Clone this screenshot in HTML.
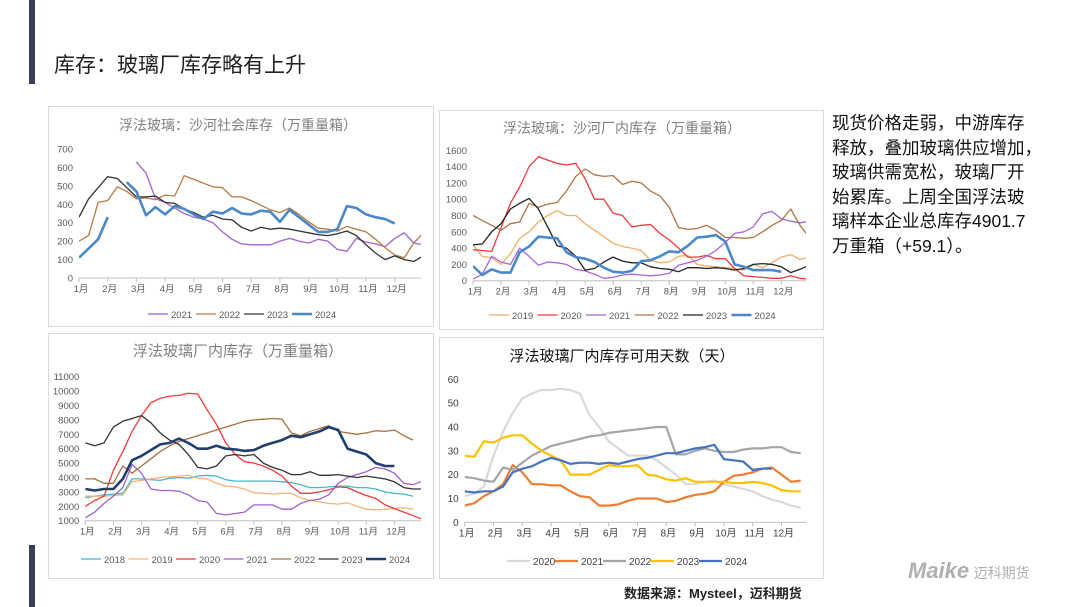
<!DOCTYPE html>
<html><head><meta charset="utf-8">
<style>
body{margin:0;width:1080px;height:607px;background:#fff;position:relative;overflow:hidden;font-family:"Liberation Sans","Noto Sans CJK SC",sans-serif;}
.abs{position:absolute;}
.box{position:absolute;border:1px solid #d9d9d9;background:#fff;}
svg text{font-family:"Liberation Sans","Noto Sans CJK SC",sans-serif;}
</style></head><body>
<div class="abs" style="left:29px;top:0;width:6px;height:84px;background:#3a3f55"></div>
<div class="abs" style="left:29px;top:545px;width:6px;height:62px;background:#3a3f55"></div>
<div class="abs" style="left:54px;top:49px;font-size:21px;color:#222;white-space:nowrap">库存：玻璃厂库存略有上升</div>
<div class="abs" style="left:832px;top:111px;font-size:17.5px;line-height:24.5px;color:#111;white-space:nowrap">现货价格走弱，中游库存<br>释放，叠加玻璃供应增加，<br>玻璃供需宽松，玻璃厂开<br>始累库。上周全国浮法玻<br>璃样本企业总库存4901.7<br>万重箱（+59.1）。</div>
<div class="abs" style="left:624px;top:583px;font-size:13px;font-weight:bold;color:#222;white-space:nowrap">数据来源：Mysteel，迈科期货</div>
<div class="abs" style="left:908px;top:558px;white-space:nowrap;color:#b0b0b0"><span style="font-size:22px;font-weight:bold;font-style:italic">Maike</span> <span style="font-size:14px">迈科期货</span></div>
<div class="box" style="left:48px;top:106px;width:384px;height:219px"></div>
<div class="box" style="left:439px;top:110px;width:383px;height:218px"></div>
<div class="box" style="left:48px;top:333px;width:384px;height:244px"></div>
<div class="box" style="left:439px;top:337px;width:383px;height:240px"></div>
<svg id="chart" class="abs" style="left:0;top:0" width="1080" height="607"></svg>
<script>
const monthLabels=["1月","2月","3月","4月","5月","6月","7月","8月","9月","10月","11月","12月"];
// Chart 1: 沙河社会库存 (values every 1/3 month)
const c1Years=["2021","2022","2023","2024"];
const c1_2021=[null,null,null,null,null,null,630,570,430,410,380,350,330,320,300,250,210,185,180,180,180,200,215,200,190,210,200,155,145,215,195,185,170,215,245,190,180];
const c1_2022=[200,230,410,420,495,470,430,435,425,450,445,555,535,515,495,490,440,440,420,395,370,355,380,345,305,270,265,255,280,265,250,210,165,125,110,190,245];
const c1_2023=[330,430,490,550,540,490,440,440,445,410,405,375,355,330,340,320,315,275,255,275,265,270,265,255,245,235,230,240,255,230,180,135,100,120,100,90,120];
const c1_2024=[110,160,210,330,null,520,470,340,385,345,390,375,345,320,360,350,380,350,345,365,360,305,370,330,290,250,250,265,390,380,345,330,320,295];
// Chart 2: 沙河厂内库存
const c2Years=["2019","2020","2021","2022","2023","2024"];
const c2_2019=[440,300,280,200,330,520,600,720,800,860,800,800,700,620,540,460,420,400,370,250,220,230,300,310,200,180,170,160,150,130,200,160,220,290,320,260,290];
const c2_2020=[380,370,360,650,950,1150,1400,1520,1480,1440,1420,1440,1250,1000,1000,830,800,660,680,690,580,500,400,290,290,310,270,270,150,60,50,40,30,30,60,30,20];
const c2_2021=[20,80,300,230,200,400,300,190,230,220,200,140,120,80,30,40,70,80,70,60,70,90,190,220,250,300,370,470,580,600,660,820,850,760,730,710,730];
const c2_2022=[800,740,680,620,700,720,950,900,940,960,1100,1280,1370,1300,1280,1290,1180,1220,1200,1100,1040,900,650,630,640,680,620,530,530,520,530,600,680,740,880,680,530];
const c2_2023=[440,450,600,700,880,950,1010,880,660,430,400,300,130,150,230,290,240,220,220,170,150,140,110,160,160,150,160,150,130,150,200,210,200,170,100,140,190];
const c2_2024=[180,70,140,100,100,350,420,540,530,520,350,290,270,230,160,110,100,120,240,250,300,360,350,430,530,540,560,480,200,170,130,130,130,110];
// Chart 3: 浮法玻璃厂内库存
const c3Years=["2018","2019","2020","2021","2022","2023","2024"];
const c3_2018=[2600,2700,2800,2850,2900,3900,3900,3850,3800,3950,4000,3950,4100,4150,4100,3850,3750,3750,3750,3750,3750,3700,3650,3500,3300,3300,3350,3400,3400,3300,3300,3200,3000,2900,2850,2700];
const c3_2019=[2700,2700,2700,2750,2800,3700,3800,3900,4000,4050,4100,4150,3950,3900,3600,3400,3350,3200,2950,2900,2850,2900,2900,2600,2400,2300,2200,2150,2250,2000,1800,1750,1800,1850,1900,1800];
const c3_2020=[2000,2400,2700,4500,5800,7200,8300,9200,9500,9650,9700,9850,9800,8700,7700,6400,5600,5100,5000,4800,4500,4100,3400,2900,2900,3000,3150,3350,3300,3000,2750,2550,2100,1850,1600,1350,1100];
const c3_2021=[1200,1600,2200,2700,3300,4900,4300,3200,3100,3100,3050,2800,2400,2300,1500,1400,1500,1600,2100,2100,2100,1800,1800,2200,2400,2500,2800,3600,4000,4200,4400,4700,4600,4300,3600,3500,3750];
const c3_2022=[3900,3900,3600,3600,4800,4300,4800,5300,5800,6200,6500,6700,6900,7100,7300,7500,7700,7900,8000,8050,8100,8050,7100,6900,7200,7400,7600,7200,7100,7000,7100,7250,7200,7300,6900,6600];
const c3_2023=[6400,6200,6400,7500,7900,8100,8300,7800,7100,6600,6300,5600,4700,4600,4800,5500,5600,5500,5600,5000,4700,4500,4200,4200,4400,4150,4150,4200,4100,4000,4100,4000,3900,3700,3300,3200,3200];
const c3_2024=[3200,3100,3200,3200,3900,5200,5500,5900,6300,6400,6700,6400,6000,6000,6200,6000,5950,5850,5900,6200,6400,6600,6900,6800,7000,7200,7500,7300,6000,5800,5600,5000,4800,4800];
// Chart 4: 可用天数
const c4Years=["2020","2021","2022","2023","2024"];
const c4_2020=[11,12,15,28,38,46,52,54,55.5,55.5,56,55.5,54,45,40,34,31,28,28,28,26,23,20,16,16,17,17.5,16,15,14,13,11,9.5,8.5,7,6];
const c4_2021=[7,8,11,13,16,24,21,16,16,15.5,15.5,13,11,10.5,7,7,7.5,9,10,10,10,8.5,9,10.5,11.5,12,13,17,19.5,20,21,22.5,23,20,17,17.5];
const c4_2022=[19,18.5,17.5,17,23,22,25,28,30,32,33,34,35,36,36.5,37.5,38,38.5,39,39.5,40,40,28.5,28.5,30,31,30,29.5,29.5,30.5,31,31,31.5,31.5,29.5,29];
const c4_2023=[28,27.5,34,33.5,35.5,36.5,36.5,33,30,28,26,20,20,20,22,24,23.5,23.5,24,20,19.5,18,17.5,18.5,17,17,17,17,16.5,16.5,17,16.5,15.5,13.5,13,13];
const c4_2024=[13,12.5,13,13,15,21,22.5,23.5,25.5,27,26,24.5,25,25,24.5,25,24.5,25.5,26.5,27,28,29,29,30,31,31.5,32.5,26.5,26,25.5,22,22.5,22.5];

const NS="http://www.w3.org/2000/svg";
const svg=document.getElementById('chart');
function mk(tag,attrs,parent){const e=document.createElementNS(NS,tag);for(const k in attrs)e.setAttribute(k,attrs[k]);(parent||svg).appendChild(e);return e;}

function drawChart(cfg){
  const g=mk('g',{});
  
  
  const xs=m=>cfg.x0+m*cfg.mw;
  const ys=v=>cfg.yb-(v-cfg.ymin)/(cfg.ymax-cfg.ymin)*(cfg.yb-cfg.yt);
  const t=mk('text',{x:cfg.tx,y:cfg.ty,'text-anchor':'middle','font-size':cfg.tfs,fill:cfg.tcol},g);
  t.textContent=cfg.title;
  
  
  for(let v=cfg.ymin;v<=cfg.ymax+1e-9;v+=cfg.ystep){
    const l=mk('text',{x:cfg.x0-6,y:ys(v)+3.5,'text-anchor':'end','font-size':cfg.fs,fill:cfg.lcol},g);
    l.textContent=String(v);
    
    
  }
  const ax=mk('line',{x1:cfg.x0,x2:cfg.xe,y1:cfg.yb,y2:cfg.yb,stroke:'#bfbfbf','stroke-width':1},g);
  
  
  monthLabels.forEach((m,i)=>{
    mk('line',{x1:xs(i),x2:xs(i),y1:cfg.yb,y2:cfg.yb+4,stroke:'#bfbfbf'},g);
    const l=mk('text',{x:xs(i)+2,y:cfg.yb+14,'text-anchor':'middle','font-size':cfg.fs,fill:cfg.lcol},g);
    l.textContent=m;
    
    
  });
  const cid='clip'+cfg.name;
  const cp=mk('clipPath',{id:cid},g);
  mk('rect',{x:cfg.x0,y:cfg.yt-20,width:cfg.xe-cfg.x0,height:cfg.yb-cfg.yt+20},cp);
  cfg.series.forEach((s,si)=>{
    let d='',pen=false;
    s.data.forEach((v,i)=>{
      if(v===null){pen=false;return;}
      d+=(pen?'L':'M')+xs(i/3).toFixed(1)+','+ys(v).toFixed(1);pen=true;
    });
    const p=mk('path',{d:d,fill:'none',stroke:s.color,'stroke-width':s.w,'stroke-linejoin':'round','clip-path':'url(#'+cid+')'},g);
    
    
    const lx=cfg.lgx+si*cfg.lgs;
    const ll=mk('line',{x1:lx,x2:lx+cfg.lgl,y1:cfg.lgy,y2:cfg.lgy,stroke:s.color,'stroke-width':s.w},g);
    
    
    const lt=mk('text',{x:lx+cfg.lgl+3,y:cfg.lgy+4,'font-size':cfg.fs,fill:cfg.lcol},g);
    lt.textContent=s.label;
    
    
  });
}
drawChart({name:'chart-shahe-social-stock',title:'浮法玻璃：沙河社会库存（万重量箱）',tx:238,ty:130,tfs:14,tcol:'#808080',
  x0:79,mw:28.7,xe:421,yb:278,yt:149,ymin:0,ymax:700,ystep:100,fs:9.5,lcol:'#595959',
  lgx:148,lgs:48,lgl:20,lgy:314,
  series:[{label:c1Years[0],data:c1_2021,color:'#9e62cc',w:1.3},{label:c1Years[1],data:c1_2022,color:'#b77a43',w:1.3},
  {label:c1Years[2],data:c1_2023,color:'#333333',w:1.3},{label:c1Years[3],data:c1_2024,color:'#4a88c9',w:2.6}]});
drawChart({name:'chart-shahe-factory-stock',title:'浮法玻璃：沙河厂内库存（万重量箱）',tx:622,ty:133,tfs:14,tcol:'#808080',
  x0:473,mw:28.03,xe:806,yb:280.7,yt:150.3,ymin:0,ymax:1600,ystep:200,fs:9.5,lcol:'#595959',
  lgx:489,lgs:48.5,lgl:20,lgy:315,
  series:[{label:c2Years[0],data:c2_2019,color:'#f4ad6a',w:1.3},{label:c2Years[1],data:c2_2020,color:'#f23a3a',w:1.3},
  {label:c2Years[2],data:c2_2021,color:'#a566d6',w:1.3},{label:c2Years[3],data:c2_2022,color:'#b07444',w:1.3},
  {label:c2Years[4],data:c2_2023,color:'#222222',w:1.3},{label:c2Years[5],data:c2_2024,color:'#4a88c9',w:2.6}]});
drawChart({name:'chart-national-factory-stock',title:'浮法玻璃厂内库存（万重量箱）',tx:238,ty:356,tfs:15,tcol:'#808080',
  x0:85.3,mw:28.1,xe:421,yb:520.7,yt:376.7,ymin:1000,ymax:11000,ystep:1000,fs:9.5,lcol:'#595959',
  lgx:81,lgs:47.5,lgl:20,lgy:559,
  series:[{label:c3Years[0],data:c3_2018,color:'#43b9c9',w:1.3},{label:c3Years[1],data:c3_2019,color:'#f5b478',w:1.3},
  {label:c3Years[2],data:c3_2020,color:'#f23a3a',w:1.3},{label:c3Years[3],data:c3_2021,color:'#9e62cc',w:1.3},
  {label:c3Years[4],data:c3_2022,color:'#a86f3e',w:1.3},{label:c3Years[5],data:c3_2023,color:'#333333',w:1.3},
  {label:c3Years[6],data:c3_2024,color:'#203f6e',w:2.6}]});
drawChart({name:'chart-usable-days',title:'浮法玻璃厂内库存可用天数（天）',tx:622,ty:361,tfs:15,tcol:'#111',
  x0:464.7,mw:28.8,xe:807,yb:522.3,yt:379.3,ymin:0,ymax:60,ystep:10,fs:10,lcol:'#404040',
  lgx:507,lgs:48,lgl:23,lgy:561,
  series:[{label:c4Years[0],data:c4_2020,color:'#d9d9d9',w:2.2},{label:c4Years[1],data:c4_2021,color:'#ed7d31',w:2.2},
  {label:c4Years[2],data:c4_2022,color:'#a5a5a5',w:2.2},{label:c4Years[3],data:c4_2023,color:'#ffc000',w:2.2},
  {label:c4Years[4],data:c4_2024,color:'#4472c4',w:2.2}]});
</script>
</body></html>
